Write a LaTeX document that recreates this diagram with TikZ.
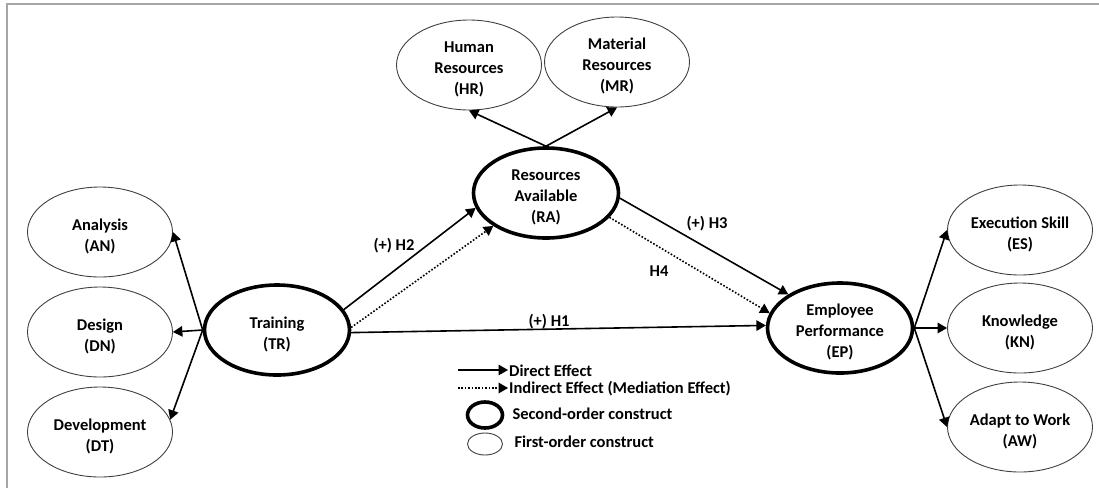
\documentclass[tikz,border=0pt]{standalone}
\usepackage{fontspec}
\setmainfont{Carlito}
\usetikzlibrary{arrows,shapes.geometric}

\begin{document}
\begin{tikzpicture}[x=1pt,y=-1pt,
  txt/.style={font=\fontsize{16.5}{21}\selectfont\bfseries, align=center},
  first/.style={ellipse, draw=black!75, line width=0.9pt, inner sep=0pt,
    minimum width=145pt, minimum height=90pt,
    label={[txt, yshift=-4pt]center:#1}},
  second/.style={first=#1, draw=black, line width=3.6pt},
  direct/.style={line width=1.6pt, -triangle 60},
  indirect/.style={direct, dash pattern=on 1.6pt off 1.8pt}]
\useasboundingbox (0,0) rectangle (1099,488);
\draw[black!35, line width=2pt] (7,488) -- (7,4) -- (1099,4);

% second-order constructs
\node[second={Training\\(TR)}] (tr) at (277,330) {};
\node[second={Resources\\Available\\(RA)}] (ra) at (546,193) {};
\node[second={Employee\\Performance\\(EP)}] (ep) at (840,328) {};

% first-order constructs
\node[first={Analysis\\(AN)}] (an) at (100,232) {};
\node[first={Design\\(DN)}] (dn) at (100,332) {};
\node[first={Development\\(DT)}] (dt) at (100,432) {};
\node[first={Human\\Resources\\(HR)}] (hr) at (469,65) {};
\node[first={Material\\Resources\\(MR)}] (mr) at (617,62) {};
\node[first={Execution Skill\\(ES)}] (es) at (1020,230) {};
\node[first={Knowledge\\(KN)}] (kn) at (1020,328) {};
\node[first={Adapt to Work\\(AW)}] (aw) at (1020,427) {};

\draw[direct] (tr.west) -- (an.east);
\draw[direct] (tr.west) -- (dn.east);
\draw[direct] (tr.west) -- (dt.10);
\draw[direct] (ra.north) -- (hr.south);
\draw[direct] (ra.north) -- (mr.south);
\draw[direct] (ep.east) -- (es.west);
\draw[direct] (ep.east) -- (kn.west);
\draw[direct] (ep.east) -- (aw.west);

% hypotheses
\draw[direct] (tr.17) -- (ra.192);
\draw[indirect] (tr.2) -- (ra.212);
\draw[direct] (ra.-4) -- (ep.147);
\draw[indirect] (ra.-21) -- (ep.168);
\draw[direct] (tr.-2) -- (ep.178);
\node[txt] (h1) at (549,322) {(+) H1};
\node[txt] (h2) at (394,246) {(+) H2};
\node[txt] (h3) at (707,224) {(+) H3};
\node[txt] (h4) at (659,271) {H4};

% legend
\coordinate (lga) at (458,370);
\coordinate (lgb) at (458,388);
\node[txt, anchor=west, inner sep=1pt] (lgdir) at (508,371) {Direct Effect};
\node[txt, anchor=west, inner sep=1pt] (lgind) at (508,389) {Indirect Effect (Mediation Effect)};
\draw[direct] (lga) -- (lgdir.west |- lga);
\draw[indirect] (lgb) -- (lgind.west |- lgb);
\node[first={}, draw=black, line width=3.6pt, minimum width=35pt, minimum height=26pt] (lgsec) at (485,415) {};
\node[first={}, minimum width=35pt, minimum height=22pt] (lgfst) at (485,444) {};
\node[txt, anchor=west] (lgsect) at (509,414) {Second-order construct};
\node[txt, anchor=west] (lgfstt) at (511,442) {First-order construct};
\end{tikzpicture}
\end{document}
